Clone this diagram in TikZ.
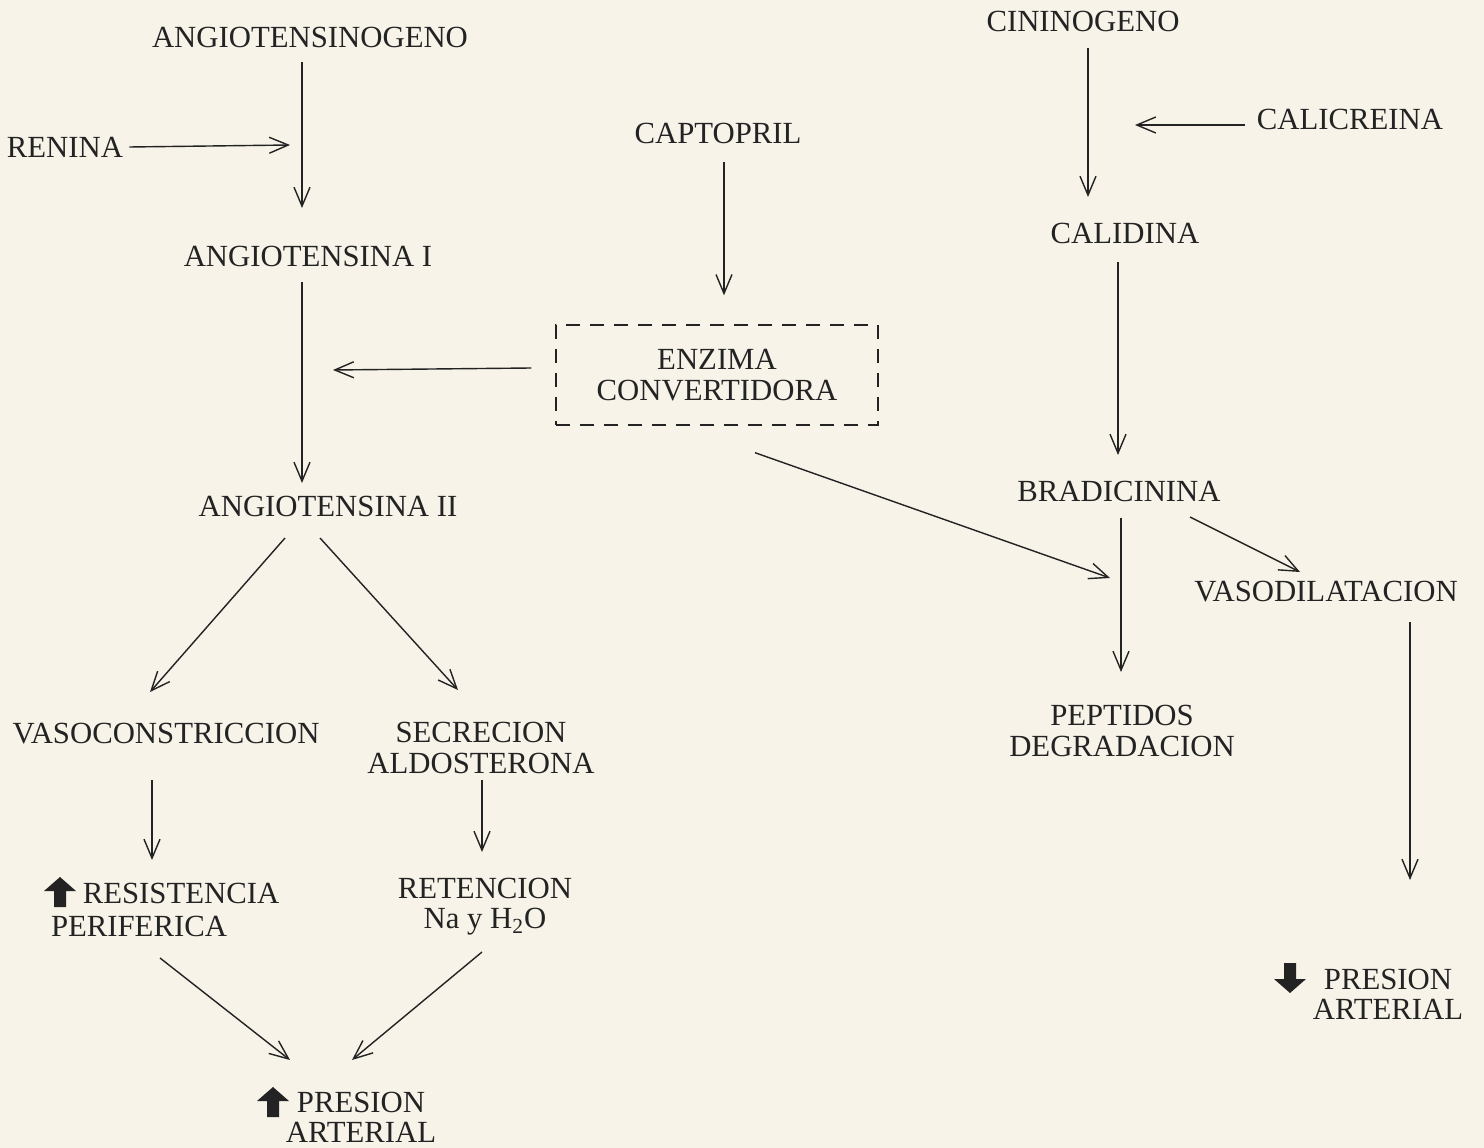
\documentclass[tikz,border=0pt]{standalone}
\usepackage{fontspec}
\setmainfont{Liberation Serif}
\usetikzlibrary{arrows.meta,calc}
\definecolor{papel}{RGB}{247,243,233}
\definecolor{tinta}{RGB}{35,35,35}

\begin{document}
\begin{tikzpicture}[x=0.02cm,y=-0.02cm]
\tikzset{every node/.style={font=\fontsize{17.5}{17.2}\selectfont, text=tinta, inner sep=0pt, align=center}}
\tikzset{flecha/.style={draw=tinta, line width=0.8pt, -{Straight Barb[length=3.8mm,width=3.2mm]}}}
\tikzset{bloque/.pic={\fill[tinta] (0,-15) -- (16,-1) -- (6,-1) -- (6,15) -- (-6,15) -- (-6,-1) -- (-16,-1) -- cycle;}}
\fill[papel] (0,0) rectangle (1484,1148);
\useasboundingbox (0,0) rectangle (1484,1148);

% sistema renina-angiotensina
\node (angno) at (310,37) {ANGIOTENSINOGENO};
\node (renina) at (65,147) {RENINA};
\node (angi) at (308,256) {ANGIOTENSINA I};
\node (angii) at (328,506) {ANGIOTENSINA II};
\node (captopril) at (718,133) {CAPTOPRIL};
\node[draw=tinta, line width=0.8pt, dash pattern=on 0.28cm off 0.2cm,
      minimum width=6.44cm, minimum height=2cm] (enzima) at (717,375) {ENZIMA\\CONVERTIDORA};
\node (vasoc) at (166,734) {VASOCONSTRICCION};
\node (secrec) at (481,748) {SECRECION\\ALDOSTERONA};
\node (resis) at (181,893) {RESISTENCIA};
\node (perif) at (139,926) {PERIFERICA};
\pic at (60,892) {bloque};
\node (reten) at (485,907) {RETENCION\\Na y H\textsubscript{2}O};
\node (presizq) at (361,1117) {PRESION\\ARTERIAL};
\pic at (273,1102) {bloque};

% sistema calicreina-cinina
\node (cinino) at (1083,21) {CININOGENO};
\node (calicreina) at (1350,119) {CALICREINA};
\node (calidina) at (1125,233) {CALIDINA};
\node (bradi) at (1119,491) {BRADICININA};
\node (vasod) at (1326,592) {VASODILATACION};
\node (peptidos) at (1122,731) {PEPTIDOS\\DEGRADACION};
\node (presder) at (1388,994) {PRESION\\ARTERIAL};
\pic[rotate=180] at (1290,978) {bloque};

\draw[flecha] ($(angno)+(-8,25)$) -- ($(angi)+(-6,-48)$);
\draw[flecha] ($(renina.east)+(6,0)$) -- ($(angno)+(-20,108)$);
\draw[flecha] ($(angi)+(-6,26)$) -- ($(angii)+(-26,-23)$);
\draw[flecha] ($(enzima.west)+(-24,-7)$) -- ($(angi)+(25,114)$);
\draw[flecha] ($(captopril)+(6,29)$) -- ($(enzima.north)+(7,-29)$);
\draw[flecha] ($(enzima.south)+(38,27)$) -- ($(bradi)+(-9,87)$);
\draw[flecha] ($(angii)+(-43,32)$) -- ($(vasoc)+(-16,-42)$);
\draw[flecha] ($(angii)+(-8,32)$) -- ($(secrec)+(-23,-58)$);
\draw[flecha] ($(vasoc)+(-14,46)$) -- ($(resis)+(-29,-33)$);
\draw[flecha] ($(secrec)+(1,32)$) -- ($(reten)+(-3,-55)$);
\draw[flecha] ($(perif)+(21,32)$) -- ($(presizq)+(-71,-57)$);
\draw[flecha] ($(reten)+(-3,45)$) -- ($(presizq)+(-9,-57)$);

\draw[flecha] ($(cinino)+(5,27)$) -- ($(calidina)+(-37,-36)$);
\draw[flecha] ($(calicreina.west)+(-12,6)$) -- ($(cinino)+(52,104)$);
\draw[flecha] ($(calidina)+(-7,29)$) -- ($(bradi)+(-1,-36)$);
\draw[flecha] ($(bradi)+(2,27)$) -- ($(peptidos)+(-1,-59)$);
\draw[flecha] ($(bradi)+(71,26)$) -- ($(vasod)+(-26,-20)$);
\draw[flecha] ($(vasod)+(84,30)$) -- ($(presder)+(22,-114)$);
\end{tikzpicture}
\end{document}
